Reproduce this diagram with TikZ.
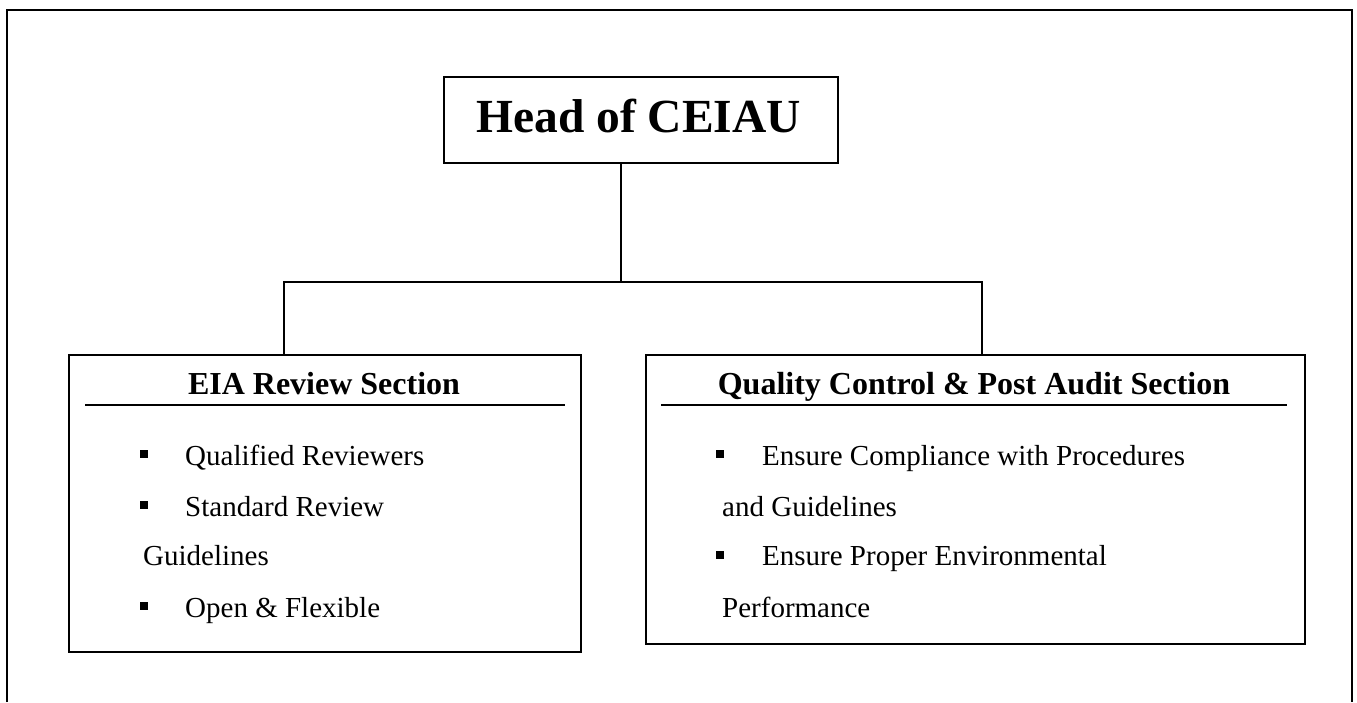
\documentclass[tikz,border=0pt]{standalone}
\usepackage{fontspec}
\setmainfont{Liberation Serif}
\begin{document}
\begin{tikzpicture}[x=1pt,y=-1pt,
  frame/.style={line width=2.4pt},
  unit/.style={draw, line width=2pt, rectangle, inner sep=0pt, anchor=north west},
  link/.style={line width=2pt},
  rule/.style={line width=2pt},
  headtxt/.style={font=\fontsize{47.5}{50}\selectfont\bfseries, inner sep=0pt, anchor=base},
  sectxt/.style={font=\fontsize{32}{34}\selectfont\bfseries, inner sep=0pt, anchor=base},
  item/.style={font=\fontsize{29}{31}\selectfont, inner sep=0pt, anchor=base west},
  sq/.style={fill=black, minimum size=8pt, inner sep=0pt}]
\useasboundingbox (0,0) rectangle (1357,702);
\fill[white] (0,0) rectangle (1357,702);
% outer frame, open at the bottom
\draw[frame] (7,702) -- (7,10) -- (1352,10) -- (1352,702);

% head of unit
\node[unit, minimum width=394pt, minimum height=86pt] (head) at (443,76) {};
\node[headtxt] (headlabel) at (638.5,132) {Head of CEIAU};

% section boxes
\node[unit, minimum width=512pt, minimum height=297pt] (eia) at (68,354) {};
\node[unit, minimum width=659pt, minimum height=289pt] (qc) at (645,354) {};

% connectors
\coordinate (hub) at (621,282);
\coordinate (jl) at (284,282);
\coordinate (jr) at (982,282);
\draw[link] (head.south -| hub) -- (hub);
\draw[link] (jl |- eia.north) -- (jl) -- (jr) -- (jr |- qc.north);

% section titles
\node[sectxt] (eiatitle) at (324,394) {EIA Review Section};
\draw[rule] (85,405) -- (565,405);
\node[sectxt] (qctitle) at (974,394) {Quality Control \& Post Audit Section};
\draw[rule] (661,405) -- (1287,405);

% EIA review items
\node[sq] (b1) at (144,454) {};
\node[item] (t1) at (185,465) {Qualified Reviewers};
\node[sq] (b2) at (144,505) {};
\node[item] (t2) at (185,516) {Standard Review};
\node[item] (t2b) at (143,565) {Guidelines};
\node[sq] (b3) at (144,606) {};
\node[item] (t3) at (185,617) {Open \& Flexible};

% quality control items
\node[sq] (c1) at (720,454) {};
\node[item] (u1) at (762,465) {Ensure Compliance with Procedures};
\node[item] (u1b) at (722,516) {and Guidelines};
\node[sq] (c2) at (720,555) {};
\node[item] (u2) at (762,565) {Ensure Proper Environmental};
\node[item] (u2b) at (722,617) {Performance};
\end{tikzpicture}
\end{document}
